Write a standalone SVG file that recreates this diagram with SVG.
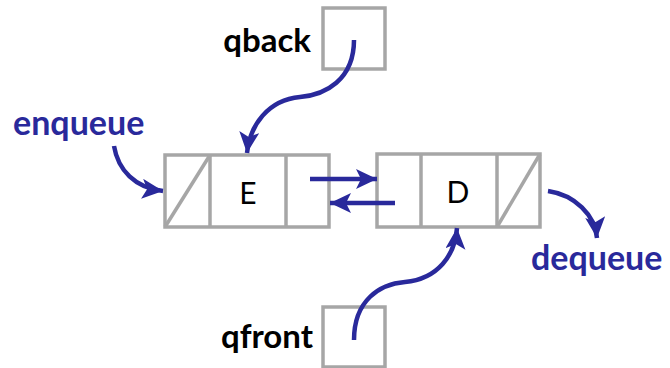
<svg xmlns="http://www.w3.org/2000/svg" width="670" height="368" viewBox="0 0 670 368">
<defs>
<marker id="ah" markerUnits="userSpaceOnUse" markerWidth="24" markerHeight="22" refX="21" refY="10" orient="auto">
<path d="M0,0 L21,10 L0,20 L5,10 Z" fill="#29299b"/>
</marker>
</defs>
<style>
.box{fill:#fff;stroke:#a6a6a6;stroke-width:3.5}
.ln{stroke:#a6a6a6;stroke-width:3.5;fill:none}
.val{font-family:Lato,"Liberation Sans",sans-serif;font-size:30px;fill:#000}
.lbl{font-family:Lato,"Liberation Sans",sans-serif;font-size:33px;font-weight:bold;fill:#000}
.op{font-family:Lato,"Liberation Sans",sans-serif;font-size:34px;font-weight:bold;fill:#29299b}
.ar{stroke:#29299b;stroke-width:4.5;fill:none;marker-end:url(#ah)}
</style>
<rect width="670" height="368" fill="#fff"/>
<g id="nodeE">
<rect class="box" x="165" y="155" width="164" height="72"/>
<line class="ln" x1="210" y1="155" x2="210" y2="227"/>
<line class="ln" x1="286" y1="155" x2="286" y2="227"/>
<line class="ln" x1="165" y1="227" x2="210" y2="155"/>
<text class="val" x="248" y="204" text-anchor="middle">E</text>
</g>
<g id="nodeD">
<rect class="box" x="377" y="154" width="163" height="73"/>
<line class="ln" x1="421" y1="154" x2="421" y2="227"/>
<line class="ln" x1="497" y1="154" x2="497" y2="227"/>
<line class="ln" x1="497" y1="227" x2="540" y2="154"/>
<text class="val" x="458" y="203" text-anchor="middle">D</text>
</g>
<g id="qback">
<rect class="box" x="323" y="8" width="62" height="61"/>
<text class="lbl" x="311" y="52" text-anchor="end">qback</text>
</g>
<g id="qfront">
<rect class="box" x="323" y="307" width="62" height="60"/>
<text class="lbl" x="313" y="348" text-anchor="end">qfront</text>
</g>
<g id="enqueue">
<text class="op" x="13" y="135">enqueue</text>
</g>
<g id="dequeue">
<text class="op" x="531" y="270">dequeue</text>
</g>
<g id="connectors">
<path class="ar" d="M310,179 L377,179"/>
<path class="ar" d="M395,203 L330,203"/>
<path class="ar" d="M354,40 C354,80 325,95 300,97 C268,100 250,125 247,153"/>
<path class="ar" d="M354,340 C354,300 380,284 405,282 C438,279 455,255 457,228"/>
<path class="ar" d="M114,146 C118,170 135,188 163,191"/>
<path class="ar" d="M548,191 C575,195 595,215 597,238"/>
</g>
</svg>
